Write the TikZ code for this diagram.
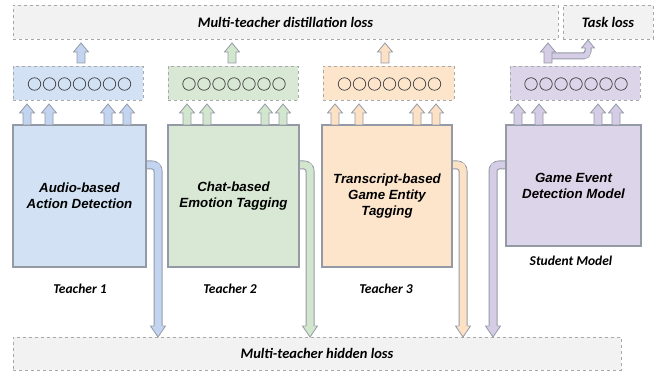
\documentclass[tikz,border=0pt]{standalone}
\usepackage{fontspec}
\setmainfont{Liberation Sans}
\newfontfamily\calib{Carlito}
\definecolor{bfill}{HTML}{D2E1F3}
\definecolor{gfill}{HTML}{D8E8D4}
\definecolor{ofill}{HTML}{FDE5CC}
\definecolor{pfill}{HTML}{DCD4E8}
\definecolor{barr}{HTML}{C2D4F0}
\definecolor{garr}{HTML}{D2E6CD}
\definecolor{oarr}{HTML}{FCE1C4}
\definecolor{parr}{HTML}{D5CCE6}
\definecolor{edgegrey}{HTML}{939AA6}
\definecolor{dashgrey}{HTML}{A8A8A8}
\definecolor{lossfill}{HTML}{F2F2F2}
\tikzset{
  bigbox/.style={draw=edgegrey, line width=1.1pt, minimum height=142pt, inner sep=2pt, align=center,
     font=\fontsize{13.3}{16}\selectfont\bfseries\itshape},
  layerbox/.style={draw=dashgrey, dashed, line width=0.8pt, minimum height=34pt, minimum width=130pt},
  lossbox/.style={draw=dashgrey, dashed, line width=0.8pt, fill=lossfill, minimum height=34pt,
     font=\calib\fontsize{14.5}{16}\selectfont\bfseries\itshape},
  lbl/.style={font=\calib\fontsize{13.5}{16}\selectfont\bfseries\itshape},
  neuron/.style={circle, draw=black!75, line width=0.7pt, minimum size=12.5pt, inner sep=0pt},
  arrline/.style={draw=edgegrey, line width=0.8pt, line join=miter},
}
% up block arrow: x, tip y, base y, colour
\newcommand\blockup[4]{%
  \filldraw[arrline, fill=#4] (#1-4,#3) -- (#1-4,#2+9) -- (#1-7.5,#2+9) -- (#1,#2) -- (#1+7.5,#2+9) -- (#1+4,#2+9) -- (#1+4,#3) -- cycle;}
% side pipe: start x, pipe x, colour
\newcommand\sidepipe[3]{%
  \draw[draw=edgegrey, line width=9pt, rounded corners=6pt] (#1,165) -- (#2,165) -- (#2,327);
  \draw[draw=#3, line width=7pt, rounded corners=5pt] (#1,165) -- (#2,165) -- (#2,327.5);
  \fill[#3] (#2-7.5,326) -- (#2,337) -- (#2+7.5,326) -- cycle;
  \draw[arrline] (#2-4.5,326) -- (#2-7.5,326) -- (#2,337) -- (#2+7.5,326) -- (#2+4.5,326);}
\begin{document}
\begin{tikzpicture}[x=1pt, y=-1pt]
\useasboundingbox (0,0) rectangle (658,371);
% loss boxes
\node[lossbox, minimum width=545pt] (dist) at (285.5,22) {Multi-teacher distillation loss};
\node[lossbox, minimum width=90pt] (task) at (608,22) {Task loss};
\node[lossbox, minimum width=608pt, minimum height=33pt] (hid) at (317,353.5) {Multi-teacher hidden loss};
% side pipes
\sidepipe{144}{158}{barr}
\sidepipe{297}{310}{garr}
\sidepipe{450}{463}{oarr}
\sidepipe{508}{493}{parr}
% big boxes
\node[bigbox, fill=bfill, minimum width=133pt] (t1) at (79.5,196) {Audio-based\\Action Detection};
\node[bigbox, fill=gfill, minimum width=131pt] (t2) at (233.5,196) {Chat-based\\Emotion Tagging};
\node[bigbox, fill=ofill, minimum width=130pt] (t3) at (387,196) {Transcript-based\\Game Entity\\Tagging};
\node[bigbox, fill=pfill, minimum width=135pt, minimum height=121pt] (st) at (573.5,185.5) {Game Event\\Detection Model};
% layer boxes
\node[layerbox, fill=bfill] (l1) at (78,83) {};
\node[layerbox, fill=gfill] (l2) at (233,83) {};
\node[layerbox, fill=ofill, minimum width=131pt] (l3) at (388.5,83) {};
\node[layerbox, fill=pfill] (l4) at (575,83) {};
\foreach \c in {79.5,234,389.5,576}{
  \foreach \i in {-3,...,3}{
    \node[neuron] at (\c+\i*15,84) {};
  }
}
% arrows into layers
\foreach \x in {27,49,108,127}{\blockup{\x}{104}{125}{barr}}
\foreach \x in {187,207,265,283}{\blockup{\x}{104}{125}{garr}}
\foreach \x in {335,359,417,436}{\blockup{\x}{104}{125}{oarr}}
\foreach \x in {518,539,598,616}{\blockup{\x}{104}{125}{parr}}
% arrows to distillation loss
\blockup{81}{43}{63}{barr}
\blockup{232}{43}{63}{garr}
\blockup{385}{43}{63}{oarr}
% student bent arrow to task loss
\draw[draw=edgegrey, line width=7pt, rounded corners=5pt] (551,56) -- (588,56) -- (588,47);
\draw[draw=parr, line width=5pt, rounded corners=4pt] (551,56) -- (588,56) -- (588,46.5);
\fill[parr] (581.5,48) -- (588,40) -- (594.5,48) -- cycle;
\draw[arrline] (585.5,48) -- (581.5,48) -- (588,40) -- (594.5,48) -- (590.5,48);
\blockup{548}{43}{63}{parr}
% labels
\node[lbl] (lab1) at (80,289) {Teacher 1};
\node[lbl] (lab2) at (230,289) {Teacher 2};
\node[lbl] (lab3) at (386,289) {Teacher 3};
\node[lbl] (lab4) at (571,261) {Student Model};
\end{tikzpicture}
\end{document}
